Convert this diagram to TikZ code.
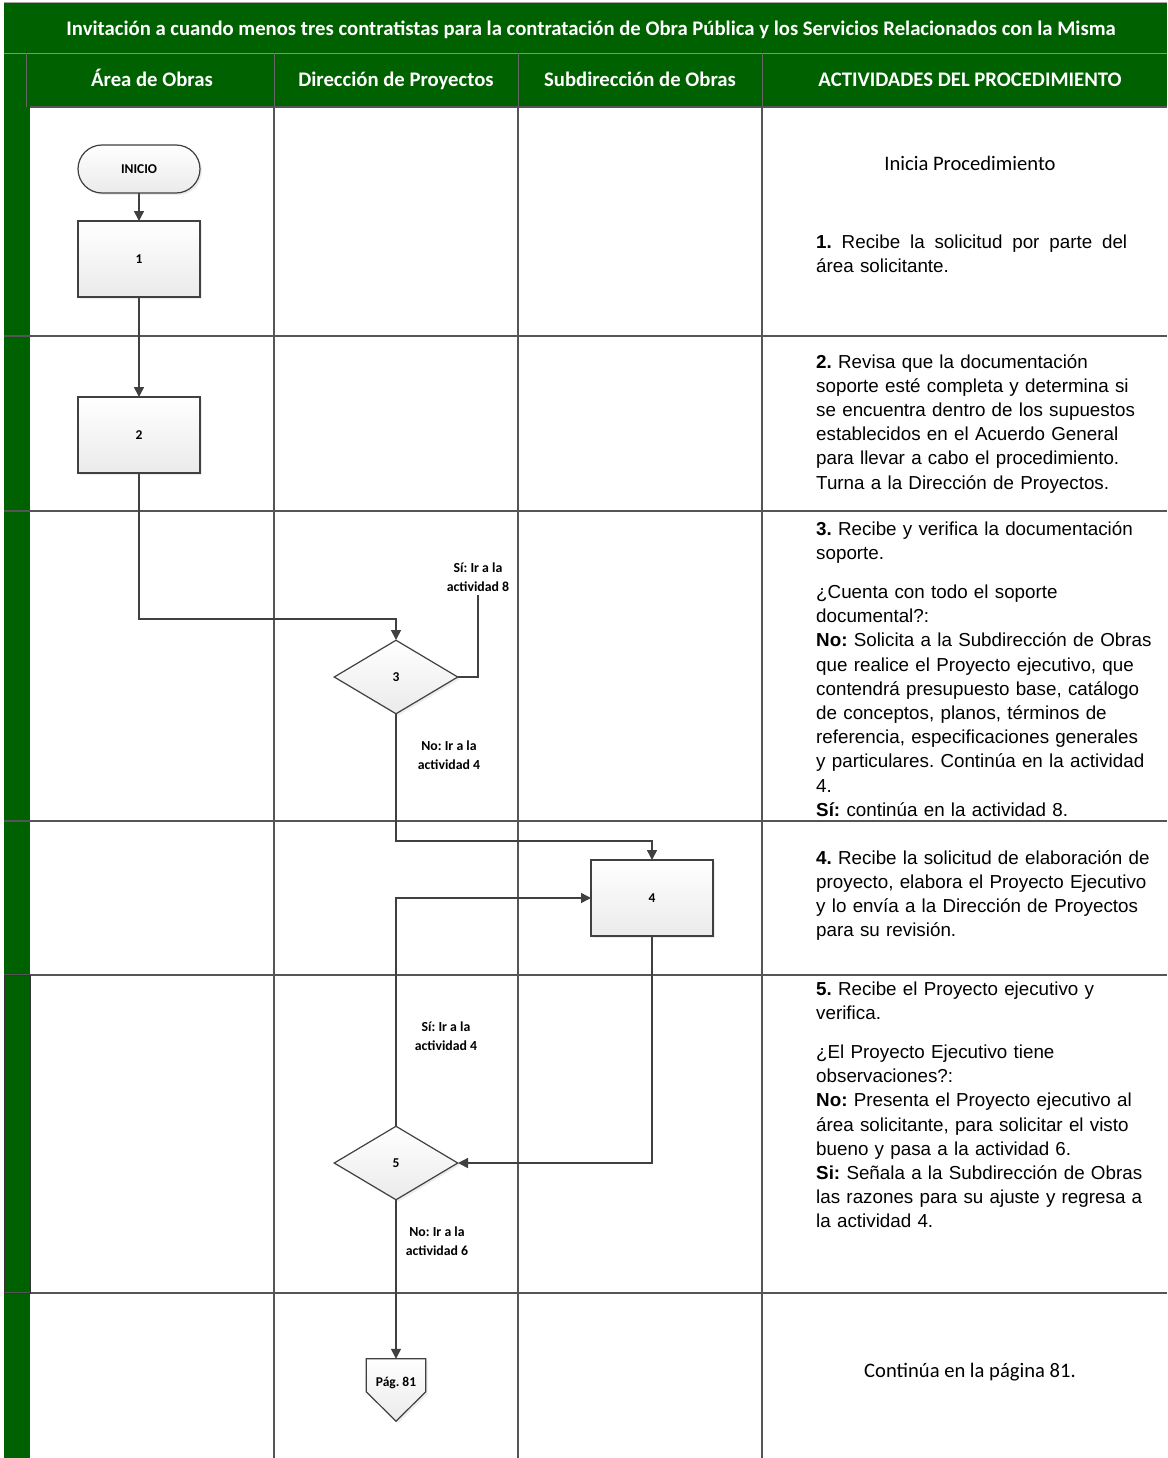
\documentclass[tikz,border=0pt]{standalone}
\usepackage{fontspec}
\setmainfont{Liberation Sans}
\newfontfamily\calf{Carlito}
\usetikzlibrary{arrows.meta,shadows,calc,shapes.geometric}
\definecolor{hdrgreen}{RGB}{0,97,0}
\definecolor{lnc}{RGB}{64,64,64}
\definecolor{gridc}{RGB}{85,85,85}
\frenchspacing
\begin{document}
\begin{tikzpicture}[x=1pt,y=-1pt,
  shp/.style={draw=lnc, line width=1.2pt, top color=white, bottom color=black!8,
    drop shadow={shadow xshift=2pt, shadow yshift=-2pt, opacity=0.15},
    font=\calf\bfseries\fontsize{13.5}{15}\selectfont, inner sep=0pt},
  term/.style={shp, rectangle, rounded corners=24pt, minimum width=122pt, minimum height=48pt},
  proc/.style={shp, rectangle, minimum width=122pt, minimum height=76pt},
  dec/.style={shp, diamond, minimum width=124pt, minimum height=74pt},
  ln/.style={draw=lnc, line width=1.5pt},
  arr/.style={ln, -{Triangle[length=10pt,width=10pt]}},
  lbl/.style={align=center, inner sep=3pt, font=\calf\bfseries\fontsize{13.8}{19}\selectfont},
  hdr/.style={text=white, anchor=base, inner sep=0pt, font=\calf\bfseries\fontsize{20.7}{24}\selectfont},
  body/.style={anchor=base west, text width=345pt, align=left, inner sep=0pt, font=\fontsize{18.8}{24.2}\selectfont},
  note/.style={anchor=base, inner sep=0pt, font=\calf\fontsize{20.6}{24}\selectfont},
  gridline/.style={draw=gridc, line width=1.2pt}
]
\useasboundingbox (0,0) rectangle (1167,1458);
\fill[white] (0,0) rectangle (1167,1458);
% title band and header
\fill[hdrgreen] (4,3) rectangle (1167,53);
\draw[black!35, line width=1pt] (4,3) -- (1167,3);
\fill[hdrgreen] (4,53) rectangle (30,1458);
\fill[hdrgreen] (26,53) rectangle (1167,107);
\draw[black!45, line width=0.8pt] (4,53) -- (1167,53);
\draw[black!60, line width=1pt] (26,53) -- (26,107);
\foreach \cx in {274,518,762} { \draw[black!60, line width=1pt] (\cx,53) -- (\cx,107); }
% grid
\draw[gridline] (30,107) -- (1167,107);
\foreach \ry in {336,511,821,975,1293} { \draw[gridline] (4,\ry) -- (1167,\ry); }
\foreach \cx in {274,518,762} { \draw[gridline] (\cx,107) -- (\cx,1458); }
\draw[black!80, line width=0.8pt] (4,975) rectangle (30,1293);

% header texts
\node[hdr] (title) at (591,35.5) {Invitación a cuando menos tres contratistas para la contratación de Obra Pública y los Servicios Relacionados con la Misma};
\node[hdr] (h1) at (152,86.5) {Área de Obras};
\node[hdr] (h2) at (396,86.5) {Dirección de Proyectos};
\node[hdr] (h3) at (640,86.5) {Subdirección de Obras};
\node[hdr] (h4) at (970,86.5) {ACTIVIDADES DEL PROCEDIMIENTO};

% activity texts
\node[note] (t0) at (970,171) {Inicia Procedimiento};
\node[body] (t1) at (816,248) {\makebox[311pt][l]{\textbf{1.}\hfill Recibe\hfill la\hfill solicitud\hfill por\hfill parte\hfill del}\\área solicitante.};
\node[body] (t2) at (816,368) {\textbf{2.} Revisa que la documentación\\soporte esté completa y determina si\\se encuentra dentro de los supuestos\\establecidos en el Acuerdo General\\para llevar a cabo el procedimiento.\\Turna a la Dirección de Proyectos.};
\node[body] (t3) at (816,535) {\textbf{3.} Recibe y verifica la documentación\\soporte.\\[15pt]¿Cuenta con todo el soporte\\documental?:\\\textbf{No:} Solicita a la Subdirección de Obras\\que realice el Proyecto ejecutivo, que\\contendrá presupuesto base, catálogo\\de conceptos, planos, términos de\\referencia, especificaciones generales\\y particulares. Continúa en la actividad\\4.\\\textbf{Sí:} continúa en la actividad 8.};
\node[body] (t4) at (816,864) {\textbf{4.} Recibe la solicitud de elaboración de\\proyecto, elabora el Proyecto Ejecutivo\\y lo envía a la Dirección de Proyectos\\para su revisión.};
\node[body] (t5) at (816,995) {\textbf{5.} Recibe el Proyecto ejecutivo y\\verifica.\\[15pt]¿El Proyecto Ejecutivo tiene\\observaciones?:\\\textbf{No:} Presenta el Proyecto ejecutivo al\\área solicitante, para solicitar el visto\\bueno y pasa a la actividad 6.\\\textbf{Si:} Señala a la Subdirección de Obras\\las razones para su ajuste y regresa a\\la actividad 4.};
\node[note] (t6) at (970,1377) {Continúa en la página 81.};

% labels
\node[lbl] (l8) at (478,577) {Sí: Ir a la\\actividad 8};
\node[lbl] (l4a) at (449,755) {No: Ir a la\\actividad 4};
\node[lbl] (l4b) at (446,1036) {Sí: Ir a la\\actividad 4};
\node[lbl] (l6) at (437,1241) {No: Ir a la\\actividad 6};

% connector anchor node for off-page connector
\node[minimum width=59pt, minimum height=62pt, inner sep=0pt] (p81) at (396,1390) {};

% connectors
\draw[arr] (139,193) -- (139,221);
\draw[arr] (139,297) -- (139,397);
\draw[arr] (139,473) -- (139,619) -| (396,640);
\draw[ln] (458,677) -| (l8.south);
\draw[arr] (396,714) -- (396,841) -| (652,860);
\draw[arr] (652,936) |- (458,1163);
\draw[arr] (396,1126) |- (591,898);
\draw[arr] (396,1200) -- (p81.north);

% shapes
\node[term] (ini) at (139,169) {INICIO};
\node[proc] (b1) at (139,259) {1};
\node[proc] (b2) at (139,435) {2};
\node[dec] (d3) at (396,677) {3};
\node[proc] (b4) at (652,898) {4};
\node[dec] (d5) at (396,1163) {5};
\path[shp] (p81.north west) -- (p81.north east) -- ($(p81.north east)+(0,33)$) -- (p81.south) -- ($(p81.north west)+(0,33)$) -- cycle;
\node[font=\calf\bfseries\fontsize{13.5}{15}\selectfont, inner sep=0pt] (p81t) at (396,1383) {Pág. 81};
\end{tikzpicture}
\end{document}
